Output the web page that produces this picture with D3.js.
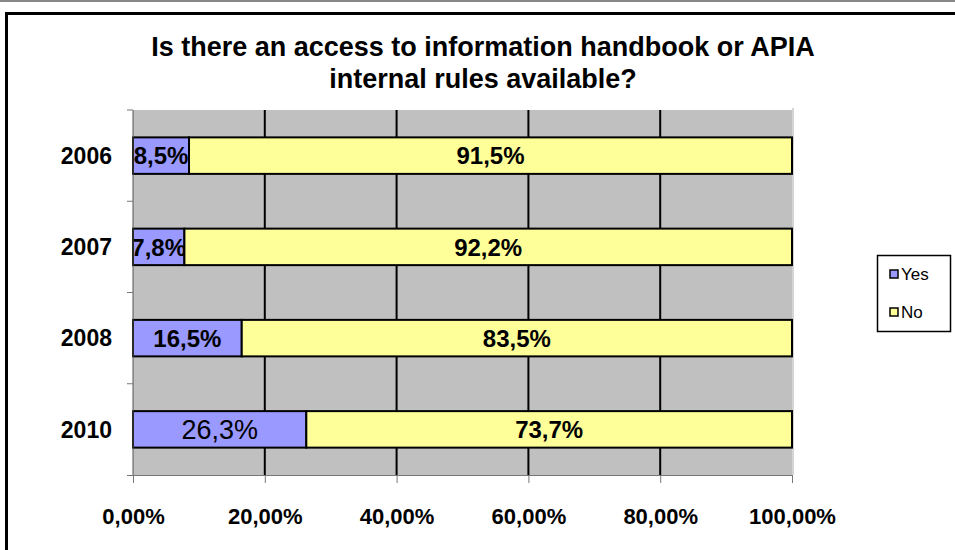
<!DOCTYPE html>
<html lang="en">
  <head>
    <meta charset="UTF-8" />
    <title>APIA handbook</title>
    <script src="https://d3js.org/d3.v7.min.js"></script>
    <style>
      body { margin: 0; background: #fff; font-family: "Liberation Sans", Arial, sans-serif; }
      svg { display: block; }
    </style>
  </head>
  <body>
    <div id="chart"></div>
    <script>
      // data
      const years = ["2006", "2007", "2008", "2010"];
      const yesValues = [8.5, 7.8, 16.5, 26.3];
      const noValues = [91.5, 92.2, 83.5, 73.7];
      const xTicks = [0, 20, 40, 60, 80, 100];
      const seriesNames = ["Yes", "No"];
      const seriesColors = ["#9999ff", "#ffff99"];
      const titleLines = ["Is there an access to information handbook or APIA", "internal rules available?"];

      const W = 955, H = 550;
      const plot = { left: 133, right: 792, top: 110, bottom: 475 };

      const svg = d3.select("#chart").append("svg")
        .attr("width", W).attr("height", H);

      // frame lines
      svg.append("line").attr("x1", 0).attr("x2", W).attr("y1", 1).attr("y2", 1)
        .attr("stroke", "#888").attr("stroke-width", 2);
      svg.append("path").attr("d", "M6.5," + (H + 5) + "V13.5H" + (W + 5))
        .attr("fill", "none").attr("stroke", "#000").attr("stroke-width", 3);

      // title
      svg.append("text")
        .attr("x", 483).attr("y", 56)
        .attr("text-anchor", "middle")
        .attr("font-weight", "bold").attr("font-size", 27)
        .selectAll("tspan").data(titleLines).join("tspan")
        .attr("x", 483).attr("dy", (d, i) => i ? 32 : 0)
        .text(d => d);

      const x = d3.scaleLinear().domain([0, 100]).range([plot.left, plot.right]);
      const y = d3.scaleBand().domain(years).range([plot.top, plot.bottom])
        .paddingInner(0.6).paddingOuter(0.3);

      // plot background
      svg.append("rect")
        .attr("x", plot.left).attr("y", plot.top)
        .attr("width", plot.right - plot.left).attr("height", plot.bottom - plot.top)
        .attr("fill", "#c0c0c0");
      svg.append("line").attr("x1", plot.right + 1).attr("x2", plot.right + 1)
        .attr("y1", plot.top - 2).attr("y2", plot.bottom)
        .attr("stroke", "#aaa").attr("stroke-width", 1);

      // gridlines
      svg.append("g").selectAll("line").data(xTicks.slice(1, -1)).join("line")
        .attr("x1", d => x(d)).attr("x2", d => x(d))
        .attr("y1", plot.top).attr("y2", plot.bottom)
        .attr("stroke", "#000").attr("stroke-width", 2);

      // bars
      const rows = years.map((yr, i) => ({ year: yr, parts: [yesValues[i], noValues[i]] }));
      const bars = svg.append("g");
      rows.forEach(r => {
        let start = 0;
        r.parts.forEach((v, j) => {
          bars.append("rect")
            .attr("x", x(start)).attr("y", y(r.year))
            .attr("width", x(start + v) - x(start)).attr("height", y.bandwidth())
            .attr("fill", seriesColors[j])
            .attr("stroke", "#000").attr("stroke-width", 2);
          const big = r.year === "2010" && j === 0;
          bars.append("text")
            .attr("x", (x(start) + x(start + v)) / 2)
            .attr("y", y(r.year) + y.bandwidth() / 2)
            .attr("dy", "0.36em")
            .attr("text-anchor", "middle")
            .attr("font-weight", big ? "normal" : "bold")
            .attr("font-size", big ? 27 : 24)
            .text(String(v).replace(".", ",") + "%");
          start += v;
        });
      });

      // axes
      const xAxis = svg.append("g")
        .attr("transform", "translate(0," + plot.bottom + ")")
        .call(d3.axisBottom(x).tickValues(xTicks).tickSize(8).tickPadding(25)
          .tickFormat(d => d.toFixed(2).replace(".", ",") + "%"));
      xAxis.select(".domain").attr("stroke", "#777").attr("d", "M" + (plot.left - 6) + ",0.5H" + plot.right);
      xAxis.selectAll(".tick line").attr("stroke", "#777");
      xAxis.selectAll(".tick text")
        .attr("font-family", "'Liberation Sans', Arial, sans-serif")
        .attr("font-size", 22).attr("font-weight", "bold").attr("fill", "#000");

      const yBounds = d3.range(years.length + 1).map(i => plot.top + i * y.step());
      svg.append("line").attr("x1", plot.left).attr("x2", plot.left)
        .attr("y1", plot.top).attr("y2", plot.bottom)
        .attr("stroke", "#555").attr("stroke-width", 1);
      svg.append("g").selectAll("line").data(yBounds.slice(0, -1)).join("line")
        .attr("x1", plot.left - 6).attr("x2", plot.left)
        .attr("y1", d => d).attr("y2", d => d)
        .attr("stroke", "#777");
      svg.append("g").selectAll("text").data(years).join("text")
        .attr("x", 112).attr("y", d => y(d) + y.bandwidth() / 2)
        .attr("dy", "0.36em").attr("text-anchor", "end")
        .attr("font-weight", "bold").attr("font-size", 23)
        .text(d => d);

      // legend
      const leg = svg.append("g").attr("transform", "translate(877,255)");
      leg.append("rect").attr("x", 0.5).attr("y", 0.5).attr("width", 73).attr("height", 76)
        .attr("fill", "#fff").attr("stroke", "#000").attr("stroke-width", 1.5);
      seriesNames.forEach((n, i) => {
        const g = leg.append("g").attr("transform", "translate(0," + (19 + i * 38) + ")");
        g.append("rect").attr("x", 13).attr("y", -4).attr("width", 8).attr("height", 8)
          .attr("fill", seriesColors[i]).attr("stroke", "#000").attr("stroke-width", 1.5);
        g.append("text").attr("x", 24).attr("dy", "0.36em")
          .attr("font-size", 17).text(n);
      });
    </script>
  </body>
</html>
